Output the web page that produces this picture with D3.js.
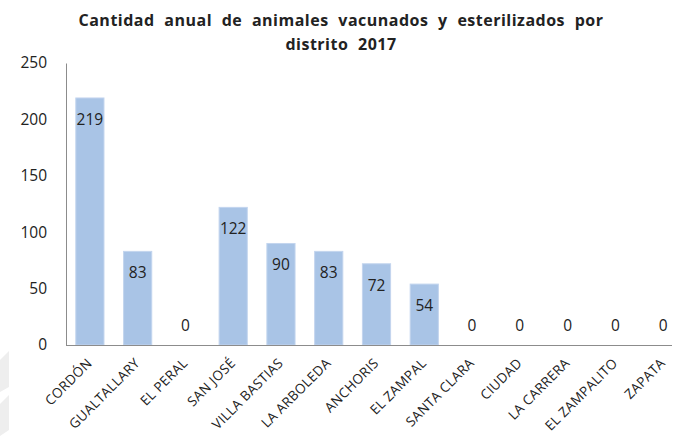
<!DOCTYPE html>
<html><head><meta charset="utf-8">
<script src="https://cdn.jsdelivr.net/npm/d3@7"></script>
<style>body{margin:0;background:#fff;} svg{display:block;}</style>
</head><body>
<svg id="c" width="675" height="438"></svg>
<script>
const categories = ["CORDÓN","GUALTALLARY","EL PERAL","SAN JOSÉ","VILLA BASTIAS","LA ARBOLEDA","ANCHORIS","EL ZAMPAL","SANTA CLARA","CIUDAD","LA CARRERA","EL ZAMPALITO","ZAPATA"];
const values = [219,83,0,122,90,83,72,54,0,0,0,0,0];
const yTicks = [0,50,100,150,200,250];
const titleLines = ["Cantidad anual de animales vacunados y esterilizados por","distrito 2017"];

const svg = d3.select("#c");
const font = "'Open Sans', sans-serif";
const m = {left:66, top:63, bottom:345, right:687};

// faint decorative shapes at left edge
svg.append("polygon").attr("points","0,360 9,351 9,387 0,392").attr("fill","#eeeeee");
svg.append("polygon").attr("points","0,404 9,395 9,430 0,436").attr("fill","#eeeeee");

const x = d3.scaleBand().domain(categories).range([m.left, m.right]).paddingInner(0.41).paddingOuter(0.205);
const y = d3.scaleLinear().domain([0,250]).range([m.bottom, m.top]);

// title
svg.append("g").selectAll("text").data(titleLines).join("text")
  .attr("x",341).attr("y",(d,i)=>26+i*24).attr("text-anchor","middle")
  .attr("font-family",font).attr("font-weight","bold").attr("font-size",16)
  .attr("letter-spacing",0.5).attr("word-spacing",5).attr("fill","#222")
  .text(d=>d);

// bars
svg.append("g").selectAll("rect").data(values).join("rect")
  .attr("x",(d,i)=>x(categories[i])).attr("width",x.bandwidth())
  .attr("y",d=>y(d)).attr("height",d=>y(0)-y(d))
  .attr("fill","#a9c4e6").attr("stroke","#c3d5ee").attr("stroke-width",1);

// y axis
const ya = svg.append("g").attr("transform",`translate(${m.left},0)`)
  .call(d3.axisLeft(y).tickValues(yTicks).tickSize(0).tickPadding(19));
ya.select(".domain").attr("stroke","#8c8c8c");
ya.selectAll("text").attr("font-family",font).attr("font-size",15.5).attr("fill","#222");

// x axis
const xa = svg.append("g").attr("transform",`translate(0,${m.bottom})`)
  .call(d3.axisBottom(x).tickSize(0).tickPadding(0));
xa.select(".domain").attr("d",`M${m.left},0.5H672`).attr("stroke","#8c8c8c");
xa.selectAll(".tick text")
  .attr("font-family",font).attr("font-size",13.5).attr("letter-spacing",0.3).attr("fill","#222")
  .attr("text-anchor","end").attr("dy",0)
  .attr("transform","translate(3,19) rotate(-45)")
  .attr("y",0).attr("x",0);

// value labels
svg.append("g").selectAll("text").data(values).join("text")
  .attr("x",(d,i)=>x(categories[i])+x.bandwidth()/2)
  .attr("y",d=> d===0 ? y(0)-14 : y(d)+27)
  .attr("text-anchor","middle").attr("font-family",font).attr("font-size",15.5).attr("fill","#222")
  .text(d=>d);
</script>
</body></html>
